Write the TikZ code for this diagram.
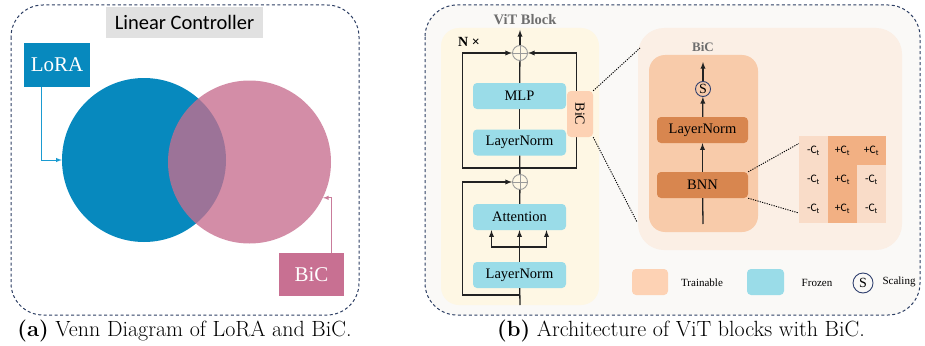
\documentclass[tikz,border=0pt]{standalone}
\usepackage{fontspec}
\newfontfamily\timesfont{Liberation Serif}
\newfontfamily\calfont{Carlito}
\definecolor{borderblue}{HTML}{2C3E63}
\definecolor{ctrlgray}{HTML}{E1E1E1}
\definecolor{lorablue}{HTML}{0789BE}
\definecolor{loraarrow}{HTML}{1B9BD1}
\definecolor{bicpink}{HTML}{C76D8E}
\definecolor{bicbox}{HTML}{C87092}
\definecolor{bicarrow}{HTML}{C97C9B}
\definecolor{frozen}{HTML}{9ADCE8}
\definecolor{trainable}{HTML}{FDD2B4}
\definecolor{vitbg}{HTML}{FEF7E4}
\definecolor{panelbg}{HTML}{FAF9F7}
\definecolor{bicbg}{HTML}{FBEFE5}
\definecolor{bicinner}{HTML}{F8CBAA}
\definecolor{bicdark}{HTML}{D8864F}
\definecolor{cellL}{HTML}{F9DCC8}
\definecolor{cellD}{HTML}{F2B083}
\definecolor{linegray}{HTML}{222222}
\definecolor{addgray}{HTML}{9A9A9A}
\definecolor{titlegray}{HTML}{6E6E6E}
\definecolor{scaleblue}{HTML}{2F3F6E}
\tikzset{
BORDER/.style={draw=borderblue,line width=1pt,dash pattern=on 3pt off 2.5pt,rounded corners=32pt},
LINE/.style={draw=linegray,line width=1.3pt},
ARROW/.style={LINE,-latex},
DOTLINE/.style={draw=black,line width=0.9pt,dash pattern=on 1.2pt off 1.2pt},
FROZENBOX/.style={fill=frozen,rounded corners=4pt,minimum width=93pt,minimum height=26pt,inner sep=0pt,font=\timesfont\fontsize{14.5}{16}\selectfont},
BICBOX/.style={fill=bicdark,rounded corners=4pt,minimum width=91pt,minimum height=26pt,inner sep=0pt,font=\timesfont\fontsize{14.5}{16}\selectfont},
ADD/.style={circle,draw=addgray,line width=0.9pt,minimum size=15pt,inner sep=0pt,
  path picture={\draw[addgray,line width=0.9pt] (path picture bounding box.north) -- (path picture bounding box.south)
  (path picture bounding box.west) -- (path picture bounding box.east);}},
SCALE/.style={circle,draw=scaleblue,line width=0.9pt,minimum size=#1,inner sep=0pt,font=\timesfont\fontsize{14}{14}\selectfont},
CELL/.style={fill=#1,minimum size=29pt,inner sep=0pt,font=\calfont\fontsize{11.5}{12}\selectfont},
LEGEND/.style={font=\timesfont\fontsize{11}{12}\selectfont},
CAPTION/.style={font=\fontsize{22}{26}\selectfont},
}
\begin{document}
\begin{tikzpicture}[x=1pt,y=-1pt]
	\useasboundingbox (0,0) rectangle (925,345);
	%Venn diagram
	\draw[BORDER] (11,5) rectangle (359,315);
	\node[fill=ctrlgray,minimum width=157pt,minimum height=31pt,inner sep=0pt,font=\calfont\fontsize{20.5}{22}\selectfont] (ctrl) at (184.5,22.5) {Linear Controller};
	\node[circle,fill=lorablue,minimum size=164pt,inner sep=0pt] (lora) at (144,160) {};
	\node[circle,fill=bicpink,fill opacity=0.78,minimum size=163pt,inner sep=0pt] (bic) at (249.5,162) {};
	\node[fill=lorablue,text=white,minimum width=66pt,minimum height=44pt,inner sep=0pt,font=\timesfont\fontsize{21}{22}\selectfont] (lorabox) at (57,65) {LoRA};
	\node[fill=bicbox,text=white,minimum width=65pt,minimum height=43pt,inner sep=0pt,font=\timesfont\fontsize{21}{22}\selectfont] (bicbox) at (311.5,274.5) {BiC};
	\draw[draw=loraarrow,line width=1pt,-latex] ([xshift=18pt]lorabox.south west) |- (lora.west);
	\draw[draw=bicarrow,line width=1pt,-latex] ([xshift=-13pt]bicbox.north east) |- (bic.-26);
	\node[CAPTION] (capa) at (184.5,331) {\textbf{(a)} Venn Diagram of LoRA and BiC.};
	%ViT block
	\draw[BORDER,fill=panelbg] (425,5) rectangle (920,315);
	\node[fill=vitbg,rounded corners=18pt,minimum width=158pt,minimum height=277pt] (vit) at (520,166.5) {};
	\node[text=titlegray,font=\timesfont\bfseries\fontsize{14.5}{16}\selectfont] (vittitle) at (525,20) {ViT Block};
	\node[font=\timesfont\bfseries\fontsize{14}{16}\selectfont] (ntimes) at (469,42) {N ×};
	\node[ADD] (add1) at (520,53) {};
	\node[ADD] (add2) at (520,182) {};
	\node[FROZENBOX] (mlp) at (519.5,96) {MLP};
	\node[FROZENBOX] (ln1) at (519.5,142.5) {LayerNorm};
	\node[FROZENBOX] (attn) at (519.5,217) {Attention};
	\node[FROZENBOX] (ln2) at (519.5,275) {LayerNorm};
	\coordinate (out) at (520,30);
	\coordinate (split1) at (520,168);
	\coordinate (split2) at (520,295);
	\coordinate (fork) at (520,247);
	\coordinate (in) at (520,305);
	\draw[ARROW] (add1) -- (out);
	\draw[LINE] (mlp) -- (add1);
	\draw[LINE] (ln1) -- (mlp);
	\draw[LINE] (add2) -- (ln1);
	\draw[LINE] (attn) -- (add2);
	\draw[LINE] (in) -- (ln2);
	\draw[ARROW] (split1) -| ([xshift=-49.5pt]add1.west) -- (add1.west);
	\draw[ARROW] (split1) -| ([xshift=48.5pt]add1.east) -- (add1.east);
	\draw[ARROW] (split2) -| ([xshift=-49.5pt]add2.west) -- (add2.west);
	\draw[ARROW] (ln2) -- (attn);
	\draw[ARROW] (fork) -| ([xshift=-28pt]attn.south);
	\draw[ARROW] (fork) -| ([xshift=27pt]attn.south);
	\node[fill=trainable,rounded corners=4pt,rotate=-90,minimum width=46pt,minimum height=26pt,inner sep=0pt,font=\timesfont\fontsize{14}{16}\selectfont] (bicc) at (580,114) {BiC};
	%BiC
	\node[fill=bicbg,rounded corners=26pt,minimum width=264pt,minimum height=222pt] (bicpanel) at (770,139) {};
	\node[fill=bicinner,rounded corners=16pt,minimum width=109pt,minimum height=177pt] (bicinner) at (703.5,143.5) {};
	\node[text=titlegray,font=\timesfont\bfseries\fontsize{13}{14}\selectfont] (bictitle) at (703,47) {BiC};
	\node[SCALE=15pt] (sc) at (703,89) {S};
	\node[BICBOX] (lnb) at (702.5,130) {LayerNorm};
	\node[BICBOX] (bnn) at (702.5,185) {BNN};
	\coordinate (bicout) at (703,62);
	\coordinate (bicin) at (703,224);
	\draw[ARROW] (sc) -- (bicout);
	\draw[ARROW] (lnb) -- (sc);
	\draw[ARROW] (bnn) -- (lnb);
	\draw[LINE] (bicin) -- (bnn);
	\foreach \r/\c/\s/\k in {1/1/-/cellL,1/2/+/cellD,1/3/+/cellD,2/1/-/cellL,2/2/+/cellD,2/3/-/cellL,3/1/-/cellL,3/2/+/cellD,3/3/-/cellL}
		\node[CELL=\k] (m\r\c) at ({813.5+29*(\c-1)},{150.5+29*(\r-1)}) {\s C\textsubscript{t}};
	\coordinate (zoomtop) at (640,48);
	\coordinate (zoombot) at (637,222);
	\draw[DOTLINE] (bicc.north west) -- (zoomtop);
	\draw[DOTLINE] (bicc.north east) -- (zoombot);
	\draw[DOTLINE] (bnn.north east) -- ([yshift=7pt]m11.west);
	\draw[DOTLINE] (bnn.south east) -- ([yshift=-4.5pt]m31.west);
	%Legend
	\node[fill=trainable,rounded corners=4pt,minimum width=36pt,minimum height=26pt] (lgtrain) at (650,282) {};
	\node[LEGEND] (lgtraintxt) at (702,283) {Trainable};
	\node[fill=frozen,rounded corners=4pt,minimum width=37pt,minimum height=26pt] (lgfrozen) at (765.5,282) {};
	\node[LEGEND] (lgfrozentxt) at (817,283) {Frozen};
	\node[SCALE=20pt] (lgscale) at (863,283) {S};
	\node[LEGEND] (lgscaletxt) at (899,282) {Scaling};
	\node[CAPTION] (capb) at (681,331) {\textbf{(b)} Architecture of ViT blocks with BiC.};
\end{tikzpicture}
\end{document}
